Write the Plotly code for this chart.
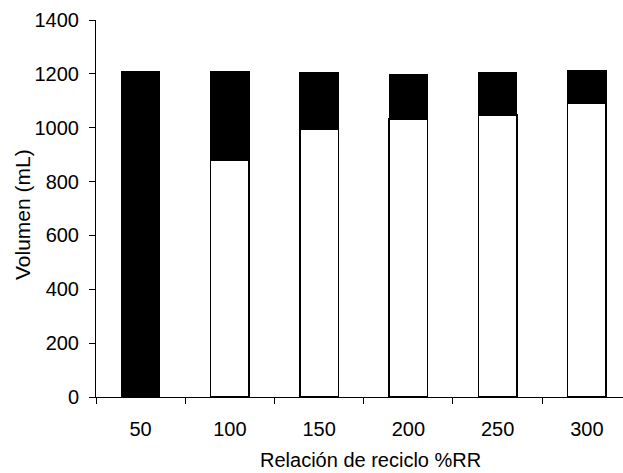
import plotly.graph_objects as go

# Recycle ratio categories (%RR)
ratios = ["50", "100", "150", "200", "250", "300"]
# Lower (white) portion of each bar, mL
volume_lower = [0, 880, 995, 1032, 1047, 1090]
# Upper (black) portion of each bar, mL
volume_upper = [1210, 330, 210, 166, 158, 121]

FONT = "Liberation Sans, Arial, sans-serif"
PLOT_W = 527  # plot-area width in px (l=96, r=0)
PLOT_H = 377  # plot-area height in px (t=20, b=76)

fig = go.Figure()
fig.add_trace(go.Bar(
    x=ratios, y=volume_lower,
    marker=dict(color="white", line=dict(color="black", width=1.5)),
    showlegend=False,
))
fig.add_trace(go.Bar(
    x=ratios, y=volume_upper,
    marker=dict(color="black", line=dict(color="black", width=1)),
    showlegend=False,
))

fig.update_layout(
    barmode="stack",
    bargap=0.567,
    width=623, height=473,
    margin=dict(l=96, r=0, t=20, b=76),
    paper_bgcolor="white",
    plot_bgcolor="white",
    font=dict(family=FONT, size=20, color="black"),
)

fig.update_xaxes(
    type="category",
    range=[-0.5, 5.405],
    showline=True, linecolor="black", linewidth=1,
    ticks="outside", ticklen=6, tickcolor="black", tickwidth=1,
    tickson="boundaries",
    ticklabelstandoff=14,
    showgrid=False, zeroline=False,
    tickfont=dict(size=20),
)
fig.update_yaxes(
    range=[0, 1400],
    dtick=200,
    showline=True, linecolor="black", linewidth=1,
    ticks="outside", ticklen=6, tickcolor="black", tickwidth=1,
    ticklabelstandoff=6,
    showgrid=False, zeroline=False,
    tickfont=dict(size=20),
)

# Horizontal axis title
fig.add_annotation(
    text="Relación de reciclo %RR",
    xref="paper", yref="paper",
    x=(370 - 96) / PLOT_W, y=-(460 - 397) / PLOT_H,
    xanchor="center", yanchor="middle",
    showarrow=False,
    font=dict(family=FONT, size=20, color="black"),
)

# Vertical axis title
fig.add_annotation(
    text="Volumen (mL)",
    xref="paper", yref="paper",
    x=(23 - 96) / PLOT_W, y=(397 - 215) / PLOT_H,
    xanchor="center", yanchor="middle",
    textangle=-90, showarrow=False,
    font=dict(family=FONT, size=21, color="black"),
)

fig.write_html("out.html")
